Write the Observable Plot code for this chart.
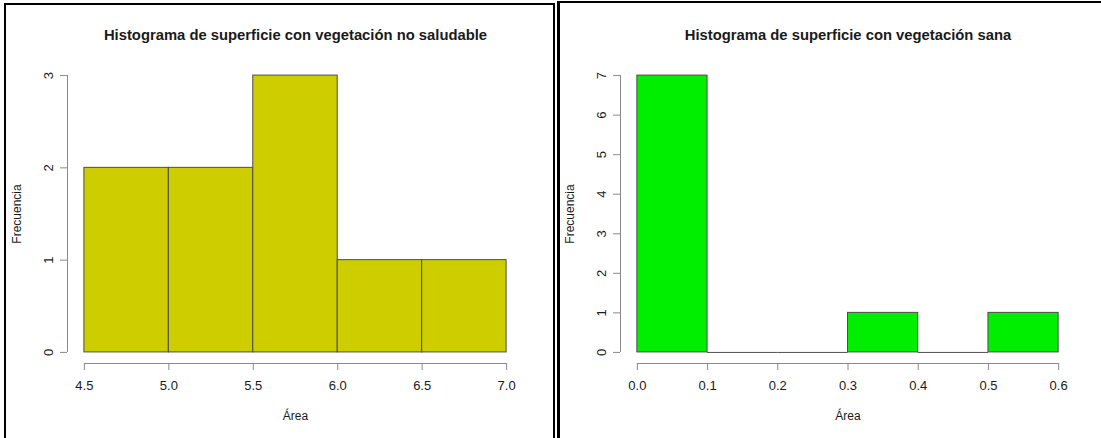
<!DOCTYPE html>
<html><head><meta charset="utf-8">
<script src="https://cdn.jsdelivr.net/npm/d3@7"></script>
<script src="https://cdn.jsdelivr.net/npm/@observablehq/plot@0.6"></script>
<style>
html,body{margin:0;padding:0;background:#fff;overflow:hidden;}
#root{position:relative;width:1101px;height:438px;overflow:hidden;background:#fff;}
.panel{position:absolute;top:0;}
.box{position:absolute;box-sizing:border-box;border-style:solid;border-color:#000;}
</style></head><body><div id="root"></div>
<script>
// ---- Data: left histogram ----
const titleNoSaludable = "Histograma de superficie con vegetación no saludable";
const edgesNoSaludable = [4.5, 5.0, 5.5, 6.0, 6.5, 7.0];
const countsNoSaludable = [2, 2, 3, 1, 1];
const xTicksNoSaludable = [4.5, 5.0, 5.5, 6.0, 6.5, 7.0];
const yTicksNoSaludable = [0, 1, 2, 3];

// ---- Data: right histogram ----
const titleSana = "Histograma de superficie con vegetación sana";
const edgesSana = [0, 0.1, 0.2, 0.3, 0.4, 0.5, 0.6];
const countsSana = [7, 0, 0, 1, 0, 1];
const xTicksSana = [0, 0.1, 0.2, 0.3, 0.4, 0.5, 0.6];
const yTicksSana = [0, 1, 2, 3, 4, 5, 6, 7];

const xLabel = "Área";
const yLabel = "Frecuencia";

const AXIS = "#8a8a8a", TEXT = "#1a1a1a", BORDER = "#4d4d4d";
const FONT = "'Liberation Sans', Arial, Helvetica, sans-serif";

function hist({title, edges, counts, xTicks, yTicks, fill, width, height, margins}) {
  const bins = counts.map((c, i) => ({x1: edges[i], x2: edges[i + 1], count: c}));
  const xr = [xTicks[0], xTicks[xTicks.length - 1]];
  const yr = [yTicks[0], yTicks[yTicks.length - 1]];
  const xpad = 0.04 * (xr[1] - xr[0]), ypad = 0.04 * (yr[1] - yr[0]);
  const xDom = [xr[0] - xpad, xr[1] + xpad];
  const yDom = [yr[0] - ypad, yr[1] + ypad];
  return Plot.plot({
    width, height,
    marginLeft: margins[0], marginRight: margins[1], marginTop: margins[2], marginBottom: margins[3],
    style: {background: "transparent", fontFamily: FONT, fontSize: "12px", color: TEXT},
    x: {domain: xDom},
    y: {domain: yDom},
    marks: [
      Plot.rect(bins.filter(d => d.count > 0), {x1: "x1", x2: "x2", y1: 0, y2: "count", fill, stroke: BORDER, strokeWidth: 1}),
      Plot.ruleY(bins.filter(d => d.count === 0), {y: 0, x1: "x1", x2: "x2", stroke: BORDER, strokeWidth: 1}),
      // axis lines (R style: from first to last tick, at the plot-region edge)
      Plot.ruleY([yDom[0]], {x1: xr[0], x2: xr[1], stroke: AXIS}),
      Plot.ruleX([xDom[0]], {y1: yr[0], y2: yr[1], stroke: AXIS}),
      Plot.axisX(xTicks, {anchor: "bottom", tickSize: 7, tickPadding: 10, tickFormat: d3.format(".1f"),
        stroke: AXIS, fill: TEXT, fontSize: 13, label: null}),
      Plot.axisY(yTicks, {anchor: "left", tickSize: 7, tickRotate: -90, tickPadding: 8, tickFormat: d3.format("d"),
        stroke: AXIS, fill: TEXT, fontSize: 13, label: null}),
      Plot.text([xLabel], {frameAnchor: "bottom", lineAnchor: "middle", textAnchor: "middle", dy: 53, fontSize: 12, fill: TEXT}),
      Plot.text([yLabel], {frameAnchor: "left", lineAnchor: "middle", textAnchor: "middle", dx: -50, rotate: -90, fontSize: 12, fill: TEXT}),
      Plot.text([title], {frameAnchor: "top", lineAnchor: "middle", textAnchor: "middle", dy: -29, fontSize: 14.8, fontWeight: "bold", fill: TEXT})
    ]
  });
}

const root = document.getElementById("root");

const left = hist({title: titleNoSaludable, edges: edgesNoSaludable, counts: countsNoSaludable,
  xTicks: xTicksNoSaludable, yTicks: yTicksNoSaludable, fill: "#CDCD00",
  width: 555, height: 438, margins: [67, 32, 64, 75]});
left.classList.add("panel"); left.style.left = "0px";
root.appendChild(left);

const right = hist({title: titleSana, edges: edgesSana, counts: countsSana,
  xTicks: xTicksSana, yTicks: yTicksSana, fill: "#00EE00",
  width: 544, height: 438, margins: [63, 26, 64, 75]});
right.classList.add("panel"); right.style.left = "557px";
root.appendChild(right);

// panel borders
const b1 = document.createElement("div");
b1.className = "box";
Object.assign(b1.style, {left: "4px", top: "3px", width: "551px", height: "600px", borderWidth: "2px"});
root.appendChild(b1);
const b2 = document.createElement("div");
b2.className = "box";
Object.assign(b2.style, {left: "557px", top: "1px", width: "700px", height: "600px", borderWidth: "2px 2px 2px 3px"});
root.appendChild(b2);
</script></body></html>
